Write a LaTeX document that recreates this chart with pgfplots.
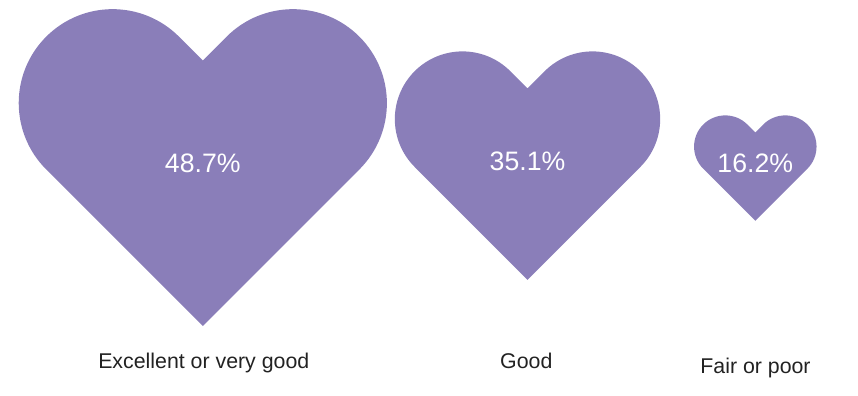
\documentclass[border=0pt]{standalone}
\usepackage{pgfplots}
\usepackage{pgfplotstable}
\pgfplotsset{compat=1.18}
\usepackage{fontspec}
\setmainfont{Liberation Sans}
\definecolor{heartpurple}{RGB}{138,126,185}
\definecolor{labelgray}{RGB}{34,34,34}

% heart mark: half-width = mark size, origin at centre of the bounding box
\pgfdeclareplotmark{heart}{%
  \pgfpathmoveto{\pgfqpoint{0pt}{-0.8606\pgfplotmarksize}}%
  \pgfpathlineto{\pgfqpoint{-0.8506\pgfplotmarksize}{-0.01\pgfplotmarksize}}%
  \pgfpatharc{225}{45}{0.51\pgfplotmarksize}%
  \pgfpathlineto{\pgfqpoint{0pt}{0.5818\pgfplotmarksize}}%
  \pgfpathlineto{\pgfqpoint{0.1294\pgfplotmarksize}{0.7112\pgfplotmarksize}}%
  \pgfpatharc{135}{-45}{0.51\pgfplotmarksize}%
  \pgfpathclose
  \pgfusepathqfill
}

% hearts: x, y (centre), value (%)
\pgfplotstableread{
x      y      v
202.8  227.5  48.7
527.5  229.5  35.1
755.3  227.0  16.2
}\hearts

% category labels: x, baseline y, label
\pgfplotstableread{
x      y     label
203.8  26.7  {Excellent or very good}
526.3  26.7  Good
755.5  21.7  {Fair or poor}
}\cats

\begin{document}
\begin{tikzpicture}
\begin{axis}[
  scale only axis,
  width=643.5pt, height=295.5pt,
  xmin=0, xmax=858, ymin=0, ymax=394,
  axis line style={draw=none},
  ticks=none,
  clip=false,
]
% hearts, sized by value
\addplot[
  scatter, only marks, mark=heart,
  point meta=explicit,
  scatter/use mapped color={draw=none, fill=heartpurple},
  visualization depends on={\thisrow{v} \as \val},
  scatter/@pre marker code/.append style={/tikz/mark size=2.835*\val},
] table[x=x, y=y, meta=v] {\hearts};

% value labels
\addplot[
  only marks, mark=none,
  point meta=explicit,
  nodes near coords={\pgfmathprintnumber[fixed,precision=1,fixed zerofill,assume math mode=true]{\pgfplotspointmeta}\%},
  nodes near coords align={center},
  every node near coord/.append style={text=white, font=\fontsize{20}{24}\selectfont, anchor=center, yshift=3.5pt, inner sep=0pt},
] table[x=x, y=y, meta=v] {\hearts};

% category labels
\addplot[
  only marks, mark=none,
  point meta=explicit symbolic,
  nodes near coords,
  nodes near coords align={center},
  every node near coord/.append style={text=labelgray, font=\fontsize{16}{19}\selectfont, anchor=base, inner sep=0pt},
] table[x=x, y=y, meta=label] {\cats};
\end{axis}
\end{tikzpicture}
\end{document}
